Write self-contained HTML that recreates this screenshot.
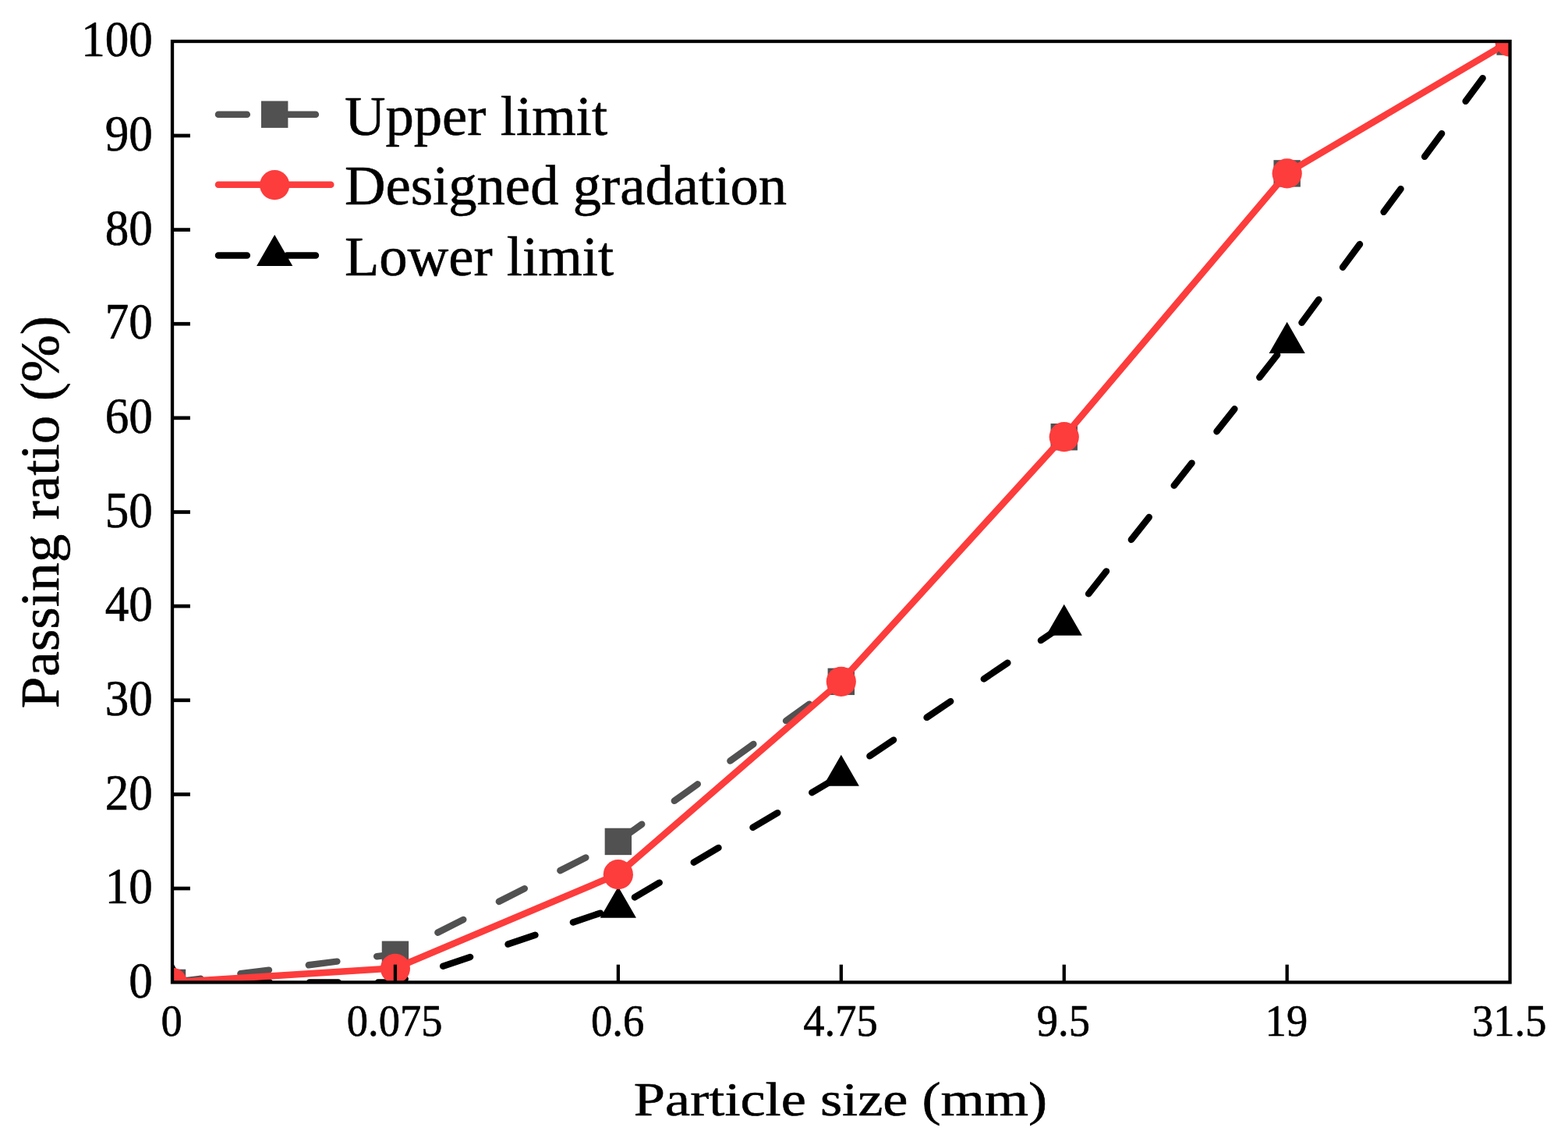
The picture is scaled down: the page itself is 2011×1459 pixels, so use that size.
<!DOCTYPE html>
<html lang="en">
<head>
<meta charset="utf-8">
<title>Gradation curve</title>
<style>
html,body{margin:0;padding:0;background:#fff;}
body{width:2011px;height:1459px;overflow:hidden;}
svg{display:block;}
text{font-family:"Liberation Serif", serif;fill:#000;stroke:#000;stroke-width:0.6px;stroke-linejoin:round;}
</style>
</head>
<body>
<svg width="2011" height="1459" viewBox="0 0 2011 1459" role="img" aria-label="Gradation curve: passing ratio versus particle size">
<rect x="0" y="0" width="2011" height="1459" fill="#ffffff"/>
<defs><clipPath id="plot"><rect x="221.00" y="53.00" width="1715.60" height="1206.40"/></clipPath></defs>
<g clip-path="url(#plot)">
<g fill="none" stroke="#515151" stroke-width="8.5" stroke-linecap="round"><line x1="221.00" y1="1259.40" x2="506.93" y2="1223.21" stroke-dasharray="36.80 51.30" stroke-dashoffset="0.00"/><line x1="506.93" y1="1223.21" x2="792.87" y2="1078.44" stroke-dasharray="36.80 51.20" stroke-dashoffset="26.93"/><line x1="792.87" y1="1078.44" x2="1078.80" y2="873.35" stroke-dasharray="36.80 51.30" stroke-dashoffset="87.60"/></g>
<rect x="203.80" y="1242.70" width="34.40" height="34.40" fill="#515151"/>
<rect x="489.73" y="1206.51" width="34.40" height="34.40" fill="#515151"/>
<rect x="775.67" y="1061.74" width="34.40" height="34.40" fill="#515151"/>
<rect x="1061.60" y="856.65" width="34.40" height="34.40" fill="#515151"/>
<rect x="1347.53" y="542.99" width="34.40" height="34.40" fill="#515151"/>
<rect x="1633.47" y="205.20" width="34.40" height="34.40" fill="#515151"/>
<rect x="1919.40" y="36.30" width="34.40" height="34.40" fill="#515151"/>
<g fill="none" stroke="#000000" stroke-width="8.5" stroke-linecap="round"><line x1="221.00" y1="1259.40" x2="506.93" y2="1259.40" stroke-dasharray="36.80 51.20" stroke-dashoffset="0.00"/><line x1="506.93" y1="1259.40" x2="792.87" y2="1162.89" stroke-dasharray="36.80 51.20" stroke-dashoffset="23.35"/><line x1="792.87" y1="1162.89" x2="1078.80" y2="993.99" stroke-dasharray="36.80 51.20" stroke-dashoffset="63.45"/><line x1="1078.80" y1="993.99" x2="1364.73" y2="800.97" stroke-dasharray="36.80 51.50" stroke-dashoffset="44.10"/><line x1="1364.73" y1="800.97" x2="1650.67" y2="439.05" stroke-dasharray="36.80 51.60" stroke-dashoffset="37.80"/><line x1="1650.67" y1="439.05" x2="1936.60" y2="53.00" stroke-dasharray="36.80 51.50" stroke-dashoffset="56.70"/></g>
<polygon points="221.00,1233.23 197.90,1273.24 244.10,1273.24" fill="#000000"/>
<polygon points="506.93,1233.23 483.83,1273.24 530.03,1273.24" fill="#000000"/>
<polygon points="792.87,1136.71 769.77,1176.72 815.97,1176.72" fill="#000000"/>
<polygon points="1078.80,967.82 1055.70,1007.83 1101.90,1007.83" fill="#000000"/>
<polygon points="1364.73,774.79 1341.63,814.80 1387.83,814.80" fill="#000000"/>
<polygon points="1650.67,412.87 1627.57,452.88 1673.77,452.88" fill="#000000"/>
<polygon points="1936.60,26.83 1913.50,66.84 1959.70,66.84" fill="#000000"/>
<polyline points="221.00,1259.40 506.93,1241.30 792.87,1120.66 1078.80,873.35 1364.73,559.69 1650.67,221.90 1936.60,53.00" fill="none" stroke="#FD3C3C" stroke-width="8.5" stroke-linecap="round" stroke-linejoin="round"/>
<circle cx="221.00" cy="1259.90" r="19.10" fill="#FD3C3C"/>
<circle cx="506.93" cy="1241.80" r="19.10" fill="#FD3C3C"/>
<circle cx="792.87" cy="1121.16" r="19.10" fill="#FD3C3C"/>
<circle cx="1078.80" cy="873.85" r="19.10" fill="#FD3C3C"/>
<circle cx="1364.73" cy="560.19" r="19.10" fill="#FD3C3C"/>
<circle cx="1650.67" cy="222.40" r="19.10" fill="#FD3C3C"/>
<circle cx="1936.60" cy="53.50" r="19.10" fill="#FD3C3C"/>
</g>
<g stroke="#000" stroke-width="4.3" fill="none" stroke-linecap="butt">
<rect x="221.00" y="53.00" width="1715.60" height="1206.40"/>
<line x1="221.00" y1="1139.06" x2="243.90" y2="1139.06" stroke-width="4.7"/>
<line x1="221.00" y1="1018.42" x2="243.90" y2="1018.42" stroke-width="4.7"/>
<line x1="221.00" y1="897.78" x2="243.90" y2="897.78" stroke-width="4.7"/>
<line x1="221.00" y1="777.14" x2="243.90" y2="777.14" stroke-width="4.7"/>
<line x1="221.00" y1="656.50" x2="243.90" y2="656.50" stroke-width="4.7"/>
<line x1="221.00" y1="535.86" x2="243.90" y2="535.86" stroke-width="4.7"/>
<line x1="221.00" y1="415.22" x2="243.90" y2="415.22" stroke-width="4.7"/>
<line x1="221.00" y1="294.58" x2="243.90" y2="294.58" stroke-width="4.7"/>
<line x1="221.00" y1="173.94" x2="243.90" y2="173.94" stroke-width="4.7"/>
<line x1="506.93" y1="1259.40" x2="506.93" y2="1236.70"/>
<line x1="792.87" y1="1259.40" x2="792.87" y2="1236.70"/>
<line x1="1078.80" y1="1259.40" x2="1078.80" y2="1236.70"/>
<line x1="1364.73" y1="1259.40" x2="1364.73" y2="1236.70"/>
<line x1="1650.67" y1="1259.40" x2="1650.67" y2="1236.70"/>
</g>
<text font-size="65.1" text-anchor="end" transform="translate(195.90 1278.80) scale(0.9380 1)">0</text>
<text font-size="65.1" text-anchor="end" transform="translate(195.90 1158.16) scale(0.9380 1)">10</text>
<text font-size="65.1" text-anchor="end" transform="translate(195.90 1037.52) scale(0.9380 1)">20</text>
<text font-size="65.1" text-anchor="end" transform="translate(195.90 916.88) scale(0.9380 1)">30</text>
<text font-size="65.1" text-anchor="end" transform="translate(195.90 796.24) scale(0.9380 1)">40</text>
<text font-size="65.1" text-anchor="end" transform="translate(195.90 675.60) scale(0.9380 1)">50</text>
<text font-size="65.1" text-anchor="end" transform="translate(195.90 554.96) scale(0.9380 1)">60</text>
<text font-size="65.1" text-anchor="end" transform="translate(195.90 434.32) scale(0.9380 1)">70</text>
<text font-size="65.1" text-anchor="end" transform="translate(195.90 313.68) scale(0.9380 1)">80</text>
<text font-size="65.1" text-anchor="end" transform="translate(195.90 193.04) scale(0.9380 1)">90</text>
<text font-size="65.1" text-anchor="end" transform="translate(195.90 72.40) scale(0.9380 1)">100</text>
<text font-size="57.5" text-anchor="middle" transform="translate(220.20 1328.30) scale(0.9496 1)">0</text>
<text font-size="57.5" text-anchor="middle" transform="translate(506.13 1328.30) scale(0.9496 1)">0.075</text>
<text font-size="57.5" text-anchor="middle" transform="translate(792.07 1328.30) scale(0.9496 1)">0.6</text>
<text font-size="57.5" text-anchor="middle" transform="translate(1078.00 1328.30) scale(0.9496 1)">4.75</text>
<text font-size="57.5" text-anchor="middle" transform="translate(1363.93 1328.30) scale(0.9496 1)">9.5</text>
<text font-size="57.5" text-anchor="middle" transform="translate(1649.87 1328.30) scale(0.9496 1)">19</text>
<text font-size="57.5" text-anchor="middle" transform="translate(1935.80 1328.30) scale(0.9496 1)">31.5</text>
<text font-size="62.3" text-anchor="middle" transform="translate(1078.00 1429.90) scale(1.1615 1)">Particle size (mm)</text>
<text font-size="70.5" text-anchor="middle" transform="translate(74.80 656.50) rotate(-90) scale(1.0366 1)">Passing ratio (%)</text>
<line x1="280.00" y1="146.70" x2="424.30" y2="146.70" stroke="#515151" stroke-width="8.5" stroke-linecap="round" stroke-dasharray="36.8 51.3"/>
<rect x="335.00" y="129.50" width="34.40" height="34.40" fill="#515151"/>
<text font-size="72.4" text-anchor="start" transform="translate(441.90 172.65) scale(1.0043 1)">Upper limit</text>
<line x1="280.00" y1="236.70" x2="424.30" y2="236.70" stroke="#FD3C3C" stroke-width="8.5" stroke-linecap="round"/>
<circle cx="352.20" cy="237.20" r="19.10" fill="#FD3C3C"/>
<text font-size="72.4" text-anchor="start" transform="translate(441.90 262.40) scale(1.0043 1)">Designed gradation</text>
<line x1="280.00" y1="327.40" x2="424.30" y2="327.40" stroke="#000000" stroke-width="8.5" stroke-linecap="round" stroke-dasharray="36.8 51.3"/>
<polygon points="352.20,301.03 329.10,341.04 375.30,341.04" fill="#000000"/>
<text font-size="72.4" text-anchor="start" transform="translate(441.90 353.00) scale(1.0043 1)">Lower limit</text>
</svg>
</body>
</html>
